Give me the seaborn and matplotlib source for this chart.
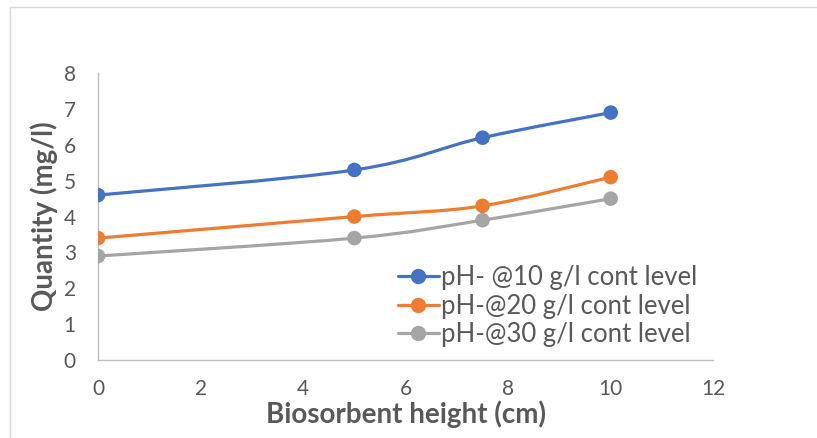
import numpy as np
import pandas as pd
import seaborn as sns
import matplotlib.pyplot as plt
from matplotlib.path import Path
from matplotlib.patches import PathPatch, Rectangle
from matplotlib.lines import Line2D

# %%
height = [0, 5, 7.5, 10]
ph_10 = [4.6, 5.3, 6.2, 6.9]
ph_20 = [3.4, 4.0, 4.3, 5.1]
ph_30 = [2.9, 3.4, 3.9, 4.5]
labels = ["pH- @10 g/l cont level", "pH-@20 g/l cont level", "pH-@30 g/l cont level"]
colors = ["#4472C4", "#ED7D31", "#A5A5A5"]

df = pd.DataFrame({
    "height": height * 3,
    "quantity": ph_10 + ph_20 + ph_30,
    "series": [labels[0]] * 4 + [labels[1]] * 4 + [labels[2]] * 4,
})


def smooth_path(x, y):
    # excel-style smoothed line as bezier segments
    p = np.column_stack([x, y]).astype(float)
    ext = np.vstack([p[0], p, p[-1]])
    verts = [p[0]]
    codes = [Path.MOVETO]
    for i in range(len(p) - 1):
        a, b, c, d = ext[i], ext[i + 1], ext[i + 2], ext[i + 3]
        verts += [b + (c - a) / 6, c - (d - b) / 6, c]
        codes += [Path.CURVE4] * 3
    return Path(verts, codes)


# %%
sns.set_style("white")
plt.rcParams["font.family"] = ["Lato", "DejaVu Sans"]

fig = plt.figure(figsize=(8.17, 4.38), dpi=100)
ax = fig.add_axes([0.12, 0.178, 0.753, 0.655])

fig.patches.append(Rectangle((10 / 817, -0.1), 1.2, 1 - 7 / 438 + 0.1,
                             transform=fig.transFigure, fill=False,
                             edgecolor="#d9d9d9", lw=1))

for lab, col in zip(labels, colors):
    sub = df[df.series == lab]
    ax.add_patch(PathPatch(smooth_path(sub.height, sub.quantity), fill=False,
                           edgecolor=col, lw=2.3, zorder=2))

sns.scatterplot(data=df, x="height", y="quantity", hue="series", palette=colors,
                s=110, edgecolor="none", legend=False, zorder=3, ax=ax)

ax.set_xlim(0, 12)
ax.set_ylim(0, 8)
ax.set_xticks(range(0, 13, 2))
ax.set_yticks(range(0, 9))
for s in ["top", "right"]:
    ax.spines[s].set_visible(False)
for s in ["left", "bottom"]:
    ax.spines[s].set_color("#bfbfbf")
    ax.spines[s].set_linewidth(1)
ax.tick_params(axis="both", labelsize=15, colors="#595959", length=0)
ax.tick_params(axis="x", pad=14)
ax.tick_params(axis="y", pad=16)
ax.set_xlabel("Biosorbent height (cm)", fontsize=20, fontweight="bold", color="#595959", labelpad=1)
ax.set_ylabel("Quantity (mg/l)", fontsize=20, fontweight="bold", color="#595959", labelpad=4)

handles = [Line2D([0], [0], color=c, lw=2.3, marker="o", markersize=10) for c in colors]
ax.legend(handles, labels, loc="lower right", bbox_to_anchor=(0.995, 0.0), frameon=False,
          fontsize=18.5, labelcolor="#595959", handlelength=1.6, handletextpad=0.08,
          labelspacing=0.14, borderpad=0)

fig.savefig("out.png", dpi=100)
